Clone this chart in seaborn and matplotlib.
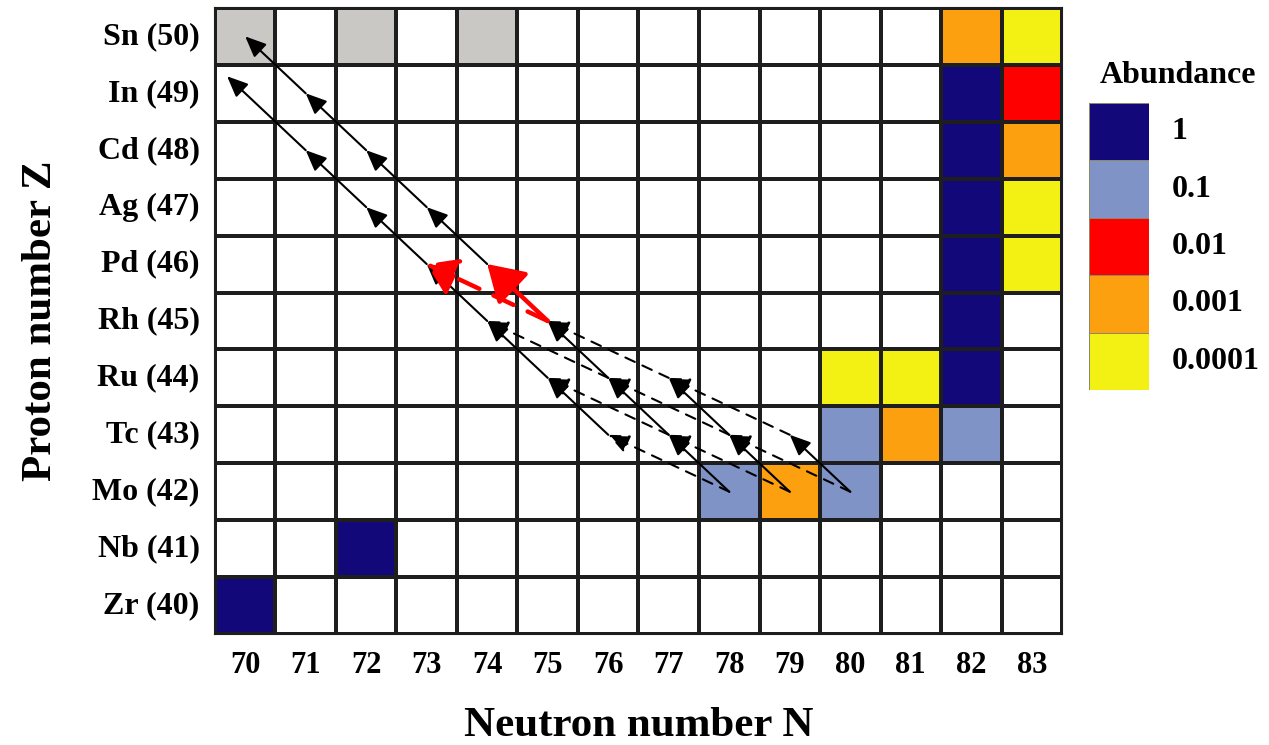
import matplotlib.pyplot as plt
import numpy as np
import pandas as pd
import seaborn as sns
from matplotlib.colors import ListedColormap

neutrons = list(range(70, 84))
protons = list(range(50, 39, -1))
elements = ['Sn', 'In', 'Cd', 'Ag', 'Pd', 'Rh', 'Ru', 'Tc', 'Mo', 'Nb', 'Zr']

# coloured cells of the chart (N, Z, abundance class)
cell_n = [70, 72, 74, 82, 83, 82, 83, 82, 83, 82, 83, 82, 83, 82,
          80, 81, 82, 80, 81, 82, 78, 79, 80, 72, 70]
cell_z = [50, 50, 50, 50, 50, 49, 49, 48, 48, 47, 47, 46, 46, 45,
          44, 44, 44, 43, 43, 43, 42, 42, 42, 41, 40]
cell_class = ['stable', 'stable', 'stable', '0.001', '0.0001',
              '1', '0.01', '1', '0.001', '1', '0.0001', '1', '0.0001', '1',
              '0.0001', '0.0001', '1', '0.1', '0.001', '0.1',
              '0.1', '0.001', '0.1', '1', '1']

legend_labels = ['1', '0.1', '0.01', '0.001', '0.0001']
legend_colors = ['#13087a', '#7f93c6', '#fe0000', '#fca010', '#f3f013']
class_codes = {'none': 0, 'stable': 1, '1': 2, '0.1': 3, '0.01': 4, '0.001': 5, '0.0001': 6}

# beta decay chains (solid) and beta-delayed neutron steps (dashed)
beta_chains = [
    [(78, 42), (77, 43), (76, 44), (75, 45), (74, 46), (73, 47), (72, 48), (71, 49), (70, 50)],
    [(76, 43), (75, 44), (74, 45), (73, 46), (72, 47), (71, 48), (70, 49)],
    [(79, 42), (78, 43), (77, 44)],
    [(80, 42), (79, 43)],
]
chain_overshoot = [0, 0.3, 0, 0]
neutron_steps = [((78, 42), (76, 43)), ((79, 42), (77, 43)), ((80, 42), (78, 43)),
                 ((77, 43), (75, 44)), ((78, 43), (76, 44)), ((79, 43), (77, 44)),
                 ((76, 44), (74, 45)), ((77, 44), (75, 45))]
red_beta = ((75, 45), (74, 46))
red_neutron = ((75, 45), (73, 46))

sns.set_style('white')
plt.rcParams['font.family'] = ['Liberation Serif', 'DejaVu Serif']
plt.rcParams['font.weight'] = 'bold'
for k in ['text.color', 'axes.labelcolor', 'xtick.color', 'ytick.color']:
    plt.rcParams[k] = 'black'

grid = pd.DataFrame(0, index=protons, columns=neutrons)
for n, z, c in zip(cell_n, cell_z, cell_class):
    grid.loc[z, n] = class_codes[c]

cmap = ListedColormap(['white', '#c9c8c4'] + legend_colors)

fig = plt.figure(figsize=(12.69, 7.45), dpi=100)
ax = fig.add_axes([0.1694, 0.149, 0.6675, 0.8403])
sns.heatmap(grid, ax=ax, cmap=cmap, vmin=-0.5, vmax=6.5, cbar=False,
            linewidths=1.5, linecolor='#1e1e1e',
            xticklabels=neutrons,
            yticklabels=[f'{e} ({z})' for e, z in zip(elements, protons)])
for s in ax.spines.values():
    s.set_visible(True)
    s.set_color('#1e1e1e')
    s.set_linewidth(1.5)

ax.tick_params(length=0, labelsize=22, pad=12)
ax.tick_params(axis='y', labelsize=23, rotation=0, pad=11)
ax.set_xlabel('Neutron number N', fontsize=31, fontweight='bold', labelpad=20)
ax.set_ylabel('Proton number Z', fontsize=31, fontweight='bold', labelpad=23)


def pos(nz):
    n, z = nz
    return np.array([n - 70 + 0.5, 50 - z + 0.5])


def arrow(a, b, color='black', lw=1.5, ls='-', hl=0.55, hw=0.24, ms=23, extra=0.0):
    pa, pb = pos(a), pos(b)
    pb = pb + (pb - pa) * extra
    ax.annotate('', xy=pb, xytext=pa,
                arrowprops=dict(arrowstyle=f'-|>,head_length={hl},head_width={hw}',
                                color=color, lw=lw, linestyle=ls, mutation_scale=ms,
                                shrinkA=0, shrinkB=0))


for chain, over in zip(beta_chains, chain_overshoot):
    steps = list(zip(chain[:-1], chain[1:]))
    for i, (a, b) in enumerate(steps):
        arrow(a, b, extra=over if i == len(steps) - 1 else 0.0)
for a, b in neutron_steps:
    arrow(a, b, ls=(0, (5, 4)))

arrow(*red_neutron, color='#ff0000', lw=3.2, ls=(0, (5, 3.5)), hl=0.45, hw=0.3, ms=40)
arrow(*red_beta, color='#ff0000', lw=3.2, hl=0.55, hw=0.34, ms=40)

# legend
lax = fig.add_axes([0.858, 0.4765, 0.0473, 0.3852])
leg = pd.DataFrame({'c': list(range(len(legend_labels)))})
sns.heatmap(leg, ax=lax, cmap=ListedColormap(legend_colors), vmin=-0.5, vmax=4.5,
            cbar=False, linewidths=0.6, linecolor='#8a8a6a',
            xticklabels=False, yticklabels=False)
for i, lab in enumerate(legend_labels):
    lax.text(1.38, i + 0.5, lab, fontsize=23, fontweight='bold', va='center', ha='left')
fig.text(0.928, 0.899, 'Abundance', fontsize=23, fontweight='bold', ha='center', va='center')

fig.savefig('out.png', dpi=100)
